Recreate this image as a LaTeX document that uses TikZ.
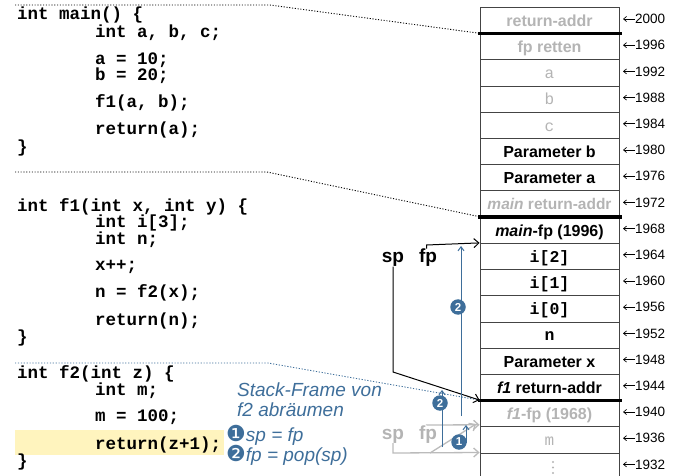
\documentclass[tikz,border=0pt]{standalone}
\usepackage{fontspec}
\setmainfont{Liberation Sans}
\setmonofont{Liberation Mono}
\newfontfamily\djv{DejaVu Sans}
\usetikzlibrary{arrows.meta}
\definecolor{stblue}{HTML}{3E6E9A}
\definecolor{ltgray}{HTML}{B4B4B4}
\definecolor{lngray}{HTML}{BBBBBB}
\definecolor{hlyellow}{HTML}{FFF4BE}
\definecolor{cellline}{HTML}{444444}
\begin{document}
\begin{tikzpicture}[x=1pt,y=-1pt,
  code/.style={anchor=base west, inner sep=0pt, font=\ttfamily\bfseries\fontsize{17.5}{18}\selectfont},
  cellbox/.style={rectangle, draw=cellline, line width=0.8pt, minimum width=139pt, minimum height=26.2pt, inner sep=0pt},
  celltxt/.style={anchor=base, inner sep=0pt, font=\bfseries\fontsize{16}{18}\selectfont},
  cellmono/.style={anchor=base, inner sep=0pt, font=\ttfamily\bfseries\fontsize{16.5}{18}\selectfont},
  cellmonolt/.style={anchor=base, inner sep=0pt, text=ltgray, font=\ttfamily\fontsize{16}{18}\selectfont},
  addr/.style={anchor=west, inner sep=0pt, font=\fontsize{13.5}{14}\selectfont},
  addrarrow/.style={line width=0.7pt, -{Straight Barb[length=3pt,width=5pt]}},
  ptr/.style={anchor=base, inner sep=0pt, font=\bfseries\fontsize{19}{20}\selectfont},
  bluetxt/.style={anchor=base west, inner sep=0pt, text=stblue, font=\itshape\fontsize{19}{20}\selectfont},
  thick line/.style={line width=3.5pt},
  dotline/.style={line width=0.9pt, dash pattern=on 1.1pt off 1.7pt},
  bluedot/.style={line width=0.9pt, stblue, dash pattern=on 1.2pt off 1.7pt},
  blackarrow/.style={line width=1pt, -{Straight Barb[length=5pt,width=9pt]}},
  grayarrow/.style={line width=1.3pt, lngray, -{Straight Barb[length=5pt,width=9pt]}},
  bluearrow/.style={line width=1pt, stblue, -{Straight Barb[length=4pt,width=6pt]}},
  marker/.style={circle, fill=stblue, inner sep=0pt, minimum size=15.5pt, text=white, font=\bfseries\fontsize{11.5}{12}\selectfont}
]
\useasboundingbox (0,0) rectangle (673,476);

% highlight
\fill[hlyellow] (15,430) rectangle (224,455);

% stack cells
\foreach \k in {0,...,17}
  \node[cellbox] (c\k) at (549.5,{20.6+26.2*\k}) {};

% thick separators
\draw[thick line] (478,33.7) -- (622,33.7);
\draw[thick line] (478,217.1) -- (622,217.1);
\draw[thick line] (478,400.5) -- (622,400.5);

% cell texts
\node[celltxt, text=ltgray] (t0) at (549.5,26.6) {return-addr};
\node[celltxt, text=ltgray] (t1) at (549.5,52.8) {fp retten};
\node[cellmonolt] (t2) at (549.5,78.8) {a};
\node[cellmonolt] (t3) at (549.5,105.0) {b};
\node[cellmonolt] (t4) at (549.5,131.2) {c};
\node[celltxt] (t5) at (549.5,157.6) {Parameter b};
\node[celltxt] (t6) at (549.5,183.8) {Parameter a};
\node[celltxt, text=ltgray, font=\bfseries\fontsize{15.5}{18}\selectfont] (t7) at (549.5,210.0) {\textit{main} return-addr};
\node[celltxt] (t8) at (549.5,236.2) {\textit{main}-fp (1996)};
\node[cellmono] (t9) at (549.5,262.2) {i[2]};
\node[cellmono] (t10) at (549.5,288.4) {i[1]};
\node[cellmono] (t11) at (549.5,314.6) {i[0]};
\node[cellmono] (t12) at (549.5,340.8) {n};
\node[celltxt] (t13) at (549.5,367.2) {Parameter x};
\node[celltxt] (t14) at (549.5,393.4) {\textit{f1} return-addr};
\node[celltxt, text=ltgray] (t15) at (549.5,419.6) {\textit{f1}-fp (1968)};
\node[cellmonolt] (t16) at (549.5,445.6) {m};
\foreach \d in {462,467.5,473}
  \fill[ltgray] (553,\d) circle (1.1pt);

% addresses
\foreach \k/\a in {0/2000,1/1996,2/1992,3/1988,4/1984,5/1980,6/1976,7/1972,8/1968,9/1964,10/1960,11/1956,12/1952,13/1948,14/1944,15/1940,16/1936,17/1932}{
  \node[addr] (a\a) at (635,{19+26.2*\k}) {\a};
  \draw[addrarrow] (a\a.west) -- ++(-12,0);
}

% code: main
\node[code] (m1) at (17,20) {int main() \{};
\node[code] (m2) at (95,38) {int a, b, c;};
\node[code] (m3) at (95,65) {a = 10;};
\node[code] (m4) at (95,81) {b = 20;};
\node[code] (m5) at (95,108) {f1(a, b);};
\node[code] (m6) at (95,135) {return(a);};
\node[code] (m7) at (17,153) {\}};
% code: f1
\node[code] (f1) at (17,212) {int f1(int x, int y) \{};
\node[code] (f2) at (95,228) {int i[3];};
\node[code] (f3) at (95,244) {int n;};
\node[code] (f4) at (95,271) {x++;};
\node[code] (f5) at (95,298) {n = f2(x);};
\node[code] (f6) at (95,325) {return(n);};
\node[code] (f7) at (17,342) {\}};
% code: f2
\node[code] (g1) at (17,378) {int f2(int z) \{};
\node[code] (g2) at (95,395) {int m;};
\node[code] (g3) at (95,421) {m = 100;};
\node[code] (g4) at (95,449) {return(z+1);};
\node[code] (g5) at (17,466) {\}};

% frame connectors
\draw[dotline] (15,5) -- (270,5) -- (c1.north west);
\draw[dotline] (15,172) -- (267,172) -- (c8.north west);
\draw[bluedot] (15,363) -- (268,363) -- (c15.north west);

% blue explanation
\node[bluetxt] (e1) at (237,396.5) {Stack-Frame von};
\node[bluetxt] (e2) at (237,416.5) {f2 abräumen};
\node[bluetxt] (e3) at (226,441.5) {{\djv\upshape\fontsize{22}{22}\selectfont ❶}sp = fp};
\node[bluetxt] (e4) at (226,461.5) {{\djv\upshape\fontsize{22}{22}\selectfont ❷}fp = pop(sp)};

% current pointers
\node[ptr] (sp) at (393,262.5) {sp};
\node[ptr] (fp) at (428,262.5) {fp};
\coordinate (spbend) at (393,372);
\draw[blackarrow] (sp.south) -- (spbend) -- (c15.north west);
\draw[blackarrow] ([xshift=-1.5pt]fp.north) -- (426.5,245) -- (c9.north west);

% old pointers (gray)
\node[ptr, text=ltgray] (spo) at (393,439) {sp};
\node[ptr, text=ltgray] (fpo) at (428,439) {fp};
\coordinate (spobend) at (393,453);
\coordinate (diagstart) at (430,453);
\coordinate (diagend) at (476,424);
\coordinate (fpobend) at (426.5,425);
\draw[grayarrow] (spo.south) -- (spobend) -- (c17.north west);
\draw[grayarrow] ([xshift=-1.5pt]fpo.north) -- (fpobend) -- ([yshift=1.5pt]c16.north west);
\draw[grayarrow] (diagstart) -- (diagend);

% blue step arrows
\coordinate (b2s) at (461,416);
\coordinate (b2e) at (461,246);
\coordinate (s2s) at (442,447);
\coordinate (s2e) at (442,390);
\coordinate (s1s) at (466,443);
\coordinate (s1e) at (466,425);
\draw[bluearrow] (b2s) -- (b2e);
\draw[bluearrow] (s2s) -- (s2e);
\draw[bluearrow] (s1s) -- (s1e);
\node[marker] (k2a) at (458,307) {2};
\node[marker] (k2b) at (440,403) {2};
\node[marker] (k1) at (459,442) {1};
\end{tikzpicture}
\end{document}
